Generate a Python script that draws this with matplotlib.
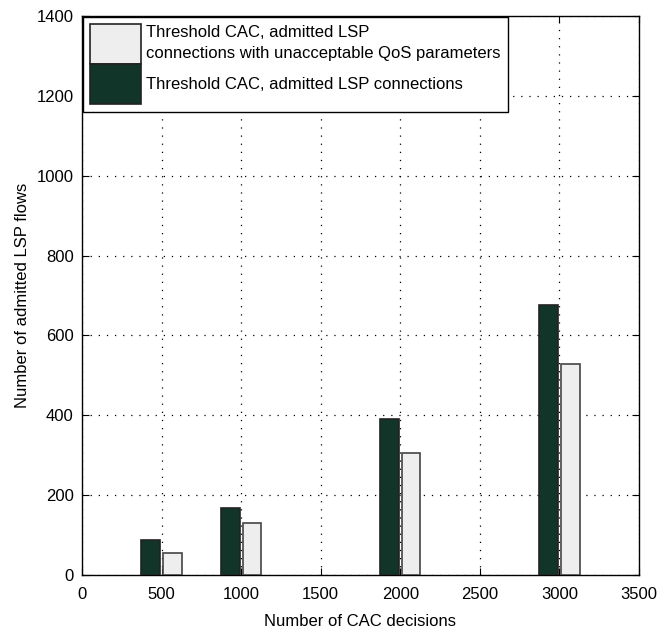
import numpy as np
import matplotlib
matplotlib.use('Agg')
import matplotlib.pyplot as plt
from matplotlib.patches import Patch

plt.rcParams['font.family'] = ['Liberation Sans', 'DejaVu Sans']

# CAC decisions and admitted flows
decisions = np.array([500, 1000, 2000, 3000])
admitted = [88, 167, 391, 676]
unacceptable = [56, 129, 305, 529]

x_ticks = [0, 500, 1000, 1500, 2000, 2500, 3000, 3500]
y_ticks = [0, 200, 400, 600, 800, 1000, 1200, 1400]

dark = '#12352a'
light = '#eeeeee'
bar_w = 118
offset = 68

fig = plt.figure(figsize=(6.7, 6.35), dpi=100)
ax = fig.add_axes([0.1224, 0.0945, 0.8313, 0.8803])

ax.bar(decisions - offset, admitted, width=bar_w, color=dark, edgecolor='#222222', linewidth=1.2, zorder=3)
ax.bar(decisions + offset, unacceptable, width=bar_w, color=light, edgecolor='#444444', linewidth=1.2, zorder=3)

ax.set_xlim(0, 3500)
ax.set_ylim(0, 1400)
ax.set_xticks(x_ticks)
ax.set_yticks(y_ticks)
ax.tick_params(direction='in', length=5, top=True, right=True, labelsize=12)
ax.tick_params(axis='x', pad=9)
ax.tick_params(axis='y', pad=6)
ax.grid(True, linestyle=(0, (1, 5.5)), color='black', linewidth=0.9)
ax.set_axisbelow(True)
for s in ax.spines.values():
    s.set_linewidth(1.0)

ax.set_xlabel('Number of CAC decisions', fontsize=12, labelpad=8)
ax.set_ylabel('Number of admitted LSP flows', fontsize=12, labelpad=5)

handles = [Patch(facecolor=light, edgecolor='#222222', linewidth=1.2),
           Patch(facecolor=dark, edgecolor='#222222', linewidth=1.2)]
labels = ['Threshold CAC, admitted LSP\nconnections with unacceptable QoS parameters',
          'Threshold CAC, admitted LSP connections']
leg = ax.legend(handles, labels, loc='upper left', bbox_to_anchor=(0.0, 1.0),
                fontsize=12, frameon=True, fancybox=False, edgecolor='black',
                framealpha=1, borderaxespad=0.05, labelspacing=0.0,
                handlelength=3.05, handleheight=3.3, handletextpad=0.3,
                borderpad=0.45)
for t in leg.get_texts():
    t.set_linespacing(1.5)
leg.get_frame().set_linewidth(1.0)
leg.set_zorder(5)

fig.savefig('out.png', dpi=100)
